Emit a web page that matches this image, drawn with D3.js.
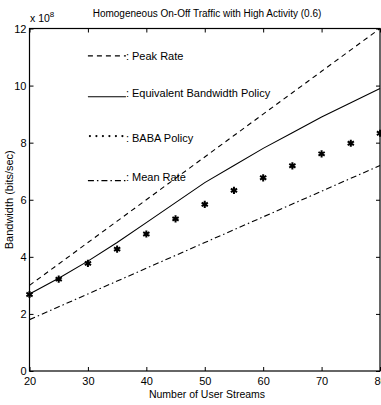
<!DOCTYPE html>
<html>
<head>
<meta charset="utf-8">
<script src="https://cdn.jsdelivr.net/npm/d3@7"></script>
<style>
  body { margin: 0; background: #fff; }
  svg { display: block; font-family: "Liberation Sans", Arial, sans-serif; }
</style>
</head>
<body>
<div id="chart"></div>
<script>
// user streams
const streams = [20, 25, 30, 35, 40, 45, 50, 55, 60, 65, 70, 75, 80];
// bandwidth in units of 1e8 bits/sec
const peakRate = [3.0, 3.75, 4.5, 5.25, 6.0, 6.75, 7.5, 8.25, 9.0, 9.75, 10.5, 11.25, 12.0];
const equivBandwidth = [2.7, 3.25, 3.85, 4.5, 5.2, 5.9, 6.6, 7.2, 7.8, 8.35, 8.9, 9.4, 9.9];
const babaPolicy = [2.68, 3.22, 3.77, 4.27, 4.8, 5.33, 5.84, 6.33, 6.77, 7.19, 7.61, 7.98, 8.33];
const meanRate = [1.8, 2.25, 2.7, 3.15, 3.6, 4.05, 4.5, 4.95, 5.4, 5.85, 6.3, 6.75, 7.2];

const xTicks = [20, 30, 40, 50, 60, 70, 80];
const yTicks = [0, 2, 4, 6, 8, 10, 12];

const legendItems = [
  { label: ": Peak Rate", kind: "dash" },
  { label: ": Equivalent Bandwidth Policy", kind: "solid" },
  { label: ": BABA Policy", kind: "dots" },
  { label: ": Mean Rate", kind: "dashdot" },
];

const width = 381, height = 405;
const margin = { top: 28.5, right: 1, bottom: 34, left: 29.5 };

const svg = d3.select("#chart").append("svg")
  .attr("width", width)
  .attr("height", height);

const x = d3.scaleLinear().domain([20, 80]).range([margin.left, width - margin.right]);
const y = d3.scaleLinear().domain([0, 12]).range([height - margin.bottom, margin.top]);

const dashes = { dash: "5,4", solid: null, dashdot: "6,3,1.5,3" };

// frame
svg.append("rect")
  .attr("x", x(20)).attr("y", y(12))
  .attr("width", x(80) - x(20)).attr("height", y(0) - y(12))
  .attr("fill", "none").attr("stroke", "#000").attr("stroke-width", 1.2);

// axes with inward ticks
const tickLen = 4;
svg.append("g")
  .attr("transform", `translate(0,${y(0)})`)
  .call(d3.axisBottom(x).tickValues(xTicks).tickSizeInner(-tickLen).tickSizeOuter(0).tickPadding(6))
  .call(g => g.select(".domain").remove());
svg.append("g")
  .attr("transform", `translate(0,${y(12)})`)
  .call(d3.axisTop(x).tickValues(xTicks).tickSizeInner(-tickLen).tickSizeOuter(0).tickFormat(""))
  .call(g => g.select(".domain").remove());
svg.append("g")
  .attr("transform", `translate(${x(20)},0)`)
  .call(d3.axisLeft(y).tickValues(yTicks).tickSizeInner(-tickLen).tickSizeOuter(0).tickPadding(3))
  .call(g => g.select(".domain").remove());
svg.append("g")
  .attr("transform", `translate(${x(80)},0)`)
  .call(d3.axisRight(y).tickValues(yTicks).tickSizeInner(-tickLen).tickSizeOuter(0).tickFormat(""))
  .call(g => g.select(".domain").remove());

svg.selectAll(".tick text").attr("font-size", 11).attr("fill", "#000")
  .attr("font-family", "Liberation Sans, Arial, sans-serif");
svg.selectAll(".tick line").attr("stroke", "#000");

// series
const line = d3.line().x(d => x(d[0])).y(d => y(d[1]));
const series = [
  { values: peakRate, kind: "dash" },
  { values: equivBandwidth, kind: "solid" },
  { values: meanRate, kind: "dashdot" },
];
svg.append("g").selectAll("path")
  .data(series)
  .join("path")
  .attr("d", s => line(d3.zip(streams, s.values)))
  .attr("fill", "none")
  .attr("stroke", "#000")
  .attr("stroke-width", 1.1)
  .attr("stroke-dasharray", s => dashes[s.kind]);

const star = d3.symbol().type(d3.symbolAsterisk).size(36);
svg.append("g").selectAll("path")
  .data(d3.zip(streams, babaPolicy))
  .join("path")
  .attr("transform", d => `translate(${x(d[0])},${y(d[1])})`)
  .attr("d", star)
  .attr("fill", "none")
  .attr("stroke", "#000")
  .attr("stroke-width", 2);

// legend (drawn as text-style entries inside the axes)
const legendY = [11.04, 9.75, 8.16, 6.81];
const lg = svg.append("g").selectAll("g")
  .data(legendItems)
  .join("g")
  .attr("transform", (d, i) => `translate(${x(30)},${y(legendY[i])})`);
lg.filter(d => d.kind !== "dots").append("line")
  .attr("x1", 0).attr("x2", 38)
  .attr("y1", d => d.kind === "dash" ? 0 : 4).attr("y2", d => d.kind === "dash" ? 0 : 4)
  .attr("stroke", "#000").attr("stroke-width", 1.1)
  .attr("stroke-dasharray", d => dashes[d.kind]);
lg.filter(d => d.kind === "dots").selectAll("circle")
  .data(d3.range(6))
  .join("circle")
  .attr("cx", i => 2 + i * 6.5).attr("cy", -2).attr("r", 1.1).attr("fill", "#000");
lg.append("text")
  .attr("x", 38).attr("y", 4)
  .attr("font-size", 11)
  .text(d => d.label);

// title and labels
svg.append("text")
  .attr("x", 207).attr("y", 17)
  .attr("text-anchor", "middle")
  .attr("font-size", 10)
  .text("Homogeneous On-Off Traffic with High Activity (0.6)");

const exp = svg.append("text").attr("x", 30).attr("y", 22).attr("font-size", 10.5);
exp.append("tspan").text("x 10");
exp.append("tspan").attr("dy", -5).attr("font-size", 8).text("8");

svg.append("text")
  .attr("x", 207).attr("y", 398)
  .attr("text-anchor", "middle")
  .attr("font-size", 10.5)
  .text("Number of User Streams");

svg.append("text")
  .attr("transform", `translate(13,${(y(0) + y(12)) / 2}) rotate(-90)`)
  .attr("text-anchor", "middle")
  .attr("font-size", 11)
  .text("Bandwidth (bits/sec)");
</script>
</body>
</html>
